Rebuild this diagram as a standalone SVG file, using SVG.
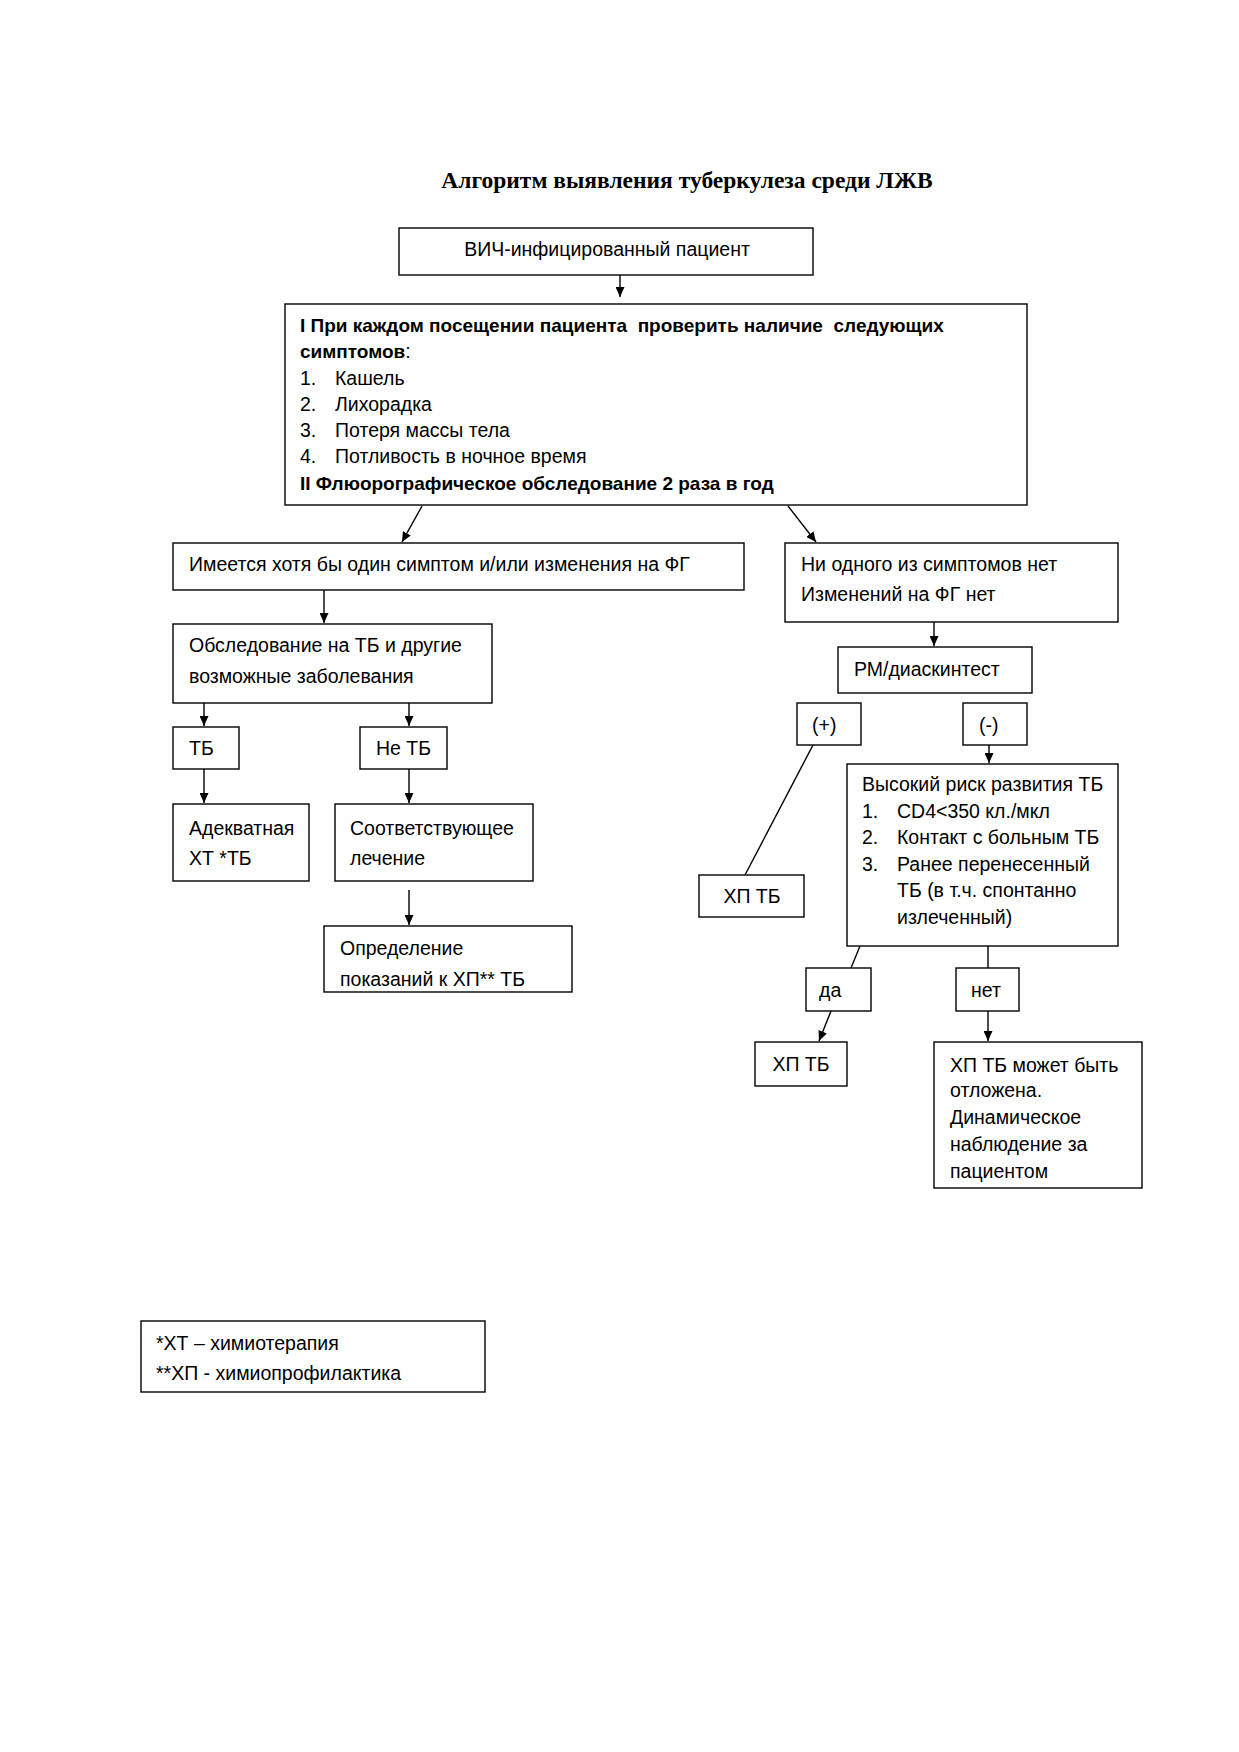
<svg xmlns="http://www.w3.org/2000/svg" width="1239" height="1752" viewBox="0 0 1239 1752">
<style>
.bx{fill:#fff;stroke:#000;stroke-width:1.4}
.t{font-family:"Liberation Sans",Arial,sans-serif;font-size:19.5px;fill:#000;white-space:pre}
.b{font-weight:bold;font-size:19px}
.ttl{font-family:"Liberation Serif","Times New Roman",serif;font-size:23.5px;font-weight:bold;fill:#000}
.c{stroke:#000;stroke-width:1.4;fill:none}
</style>
<defs>
<marker id="ah" markerUnits="userSpaceOnUse" markerWidth="10" markerHeight="9" refX="10" refY="4.5" orient="auto">
<path d="M0,0 L10,4.5 L0,9 z" fill="#000"/>
</marker>
</defs>
<rect width="1239" height="1752" fill="#fff"/>
<text class="ttl" x="687" y="188" text-anchor="middle">Алгоритм выявления туберкулеза среди ЛЖВ</text>

<g id="connectors">
<line class="c" x1="620" y1="275" x2="620" y2="297" marker-end="url(#ah)"/>
<line class="c" x1="422" y1="506" x2="402" y2="542" marker-end="url(#ah)"/>
<line class="c" x1="788" y1="506" x2="816" y2="542" marker-end="url(#ah)"/>
<line class="c" x1="324" y1="590" x2="324" y2="623" marker-end="url(#ah)"/>
<line class="c" x1="934" y1="622" x2="934" y2="646" marker-end="url(#ah)"/>
<line class="c" x1="204" y1="703" x2="204" y2="726" marker-end="url(#ah)"/>
<line class="c" x1="409" y1="703" x2="409" y2="726" marker-end="url(#ah)"/>
<line class="c" x1="204" y1="769" x2="204" y2="803" marker-end="url(#ah)"/>
<line class="c" x1="409" y1="769" x2="409" y2="803" marker-end="url(#ah)"/>
<line class="c" x1="409" y1="890" x2="409" y2="925" marker-end="url(#ah)"/>
<line class="c" x1="813" y1="745" x2="745" y2="875"/>
<line class="c" x1="989" y1="745" x2="989" y2="763" marker-end="url(#ah)"/>
<line class="c" x1="860" y1="946" x2="851" y2="968"/>
<line class="c" x1="831" y1="1011" x2="819" y2="1041" marker-end="url(#ah)"/>
<line class="c" x1="988" y1="946" x2="988" y2="968"/>
<line class="c" x1="988" y1="1011" x2="988" y2="1041" marker-end="url(#ah)"/>
</g>

<g id="n1"><rect class="bx" x="399" y="228" width="414" height="47"/>
<text class="t" x="607" y="256" text-anchor="middle">ВИЧ-инфицированный пациент</text></g>

<g id="n2"><rect class="bx" x="285" y="304" width="742" height="201"/>
<text class="t b" x="300" y="332">I При каждом посещении пациента  проверить наличие  следующих</text>
<text class="t" x="300" y="358"><tspan class="b">симптомов</tspan>:</text>
<text class="t" x="300" y="385">1.</text><text class="t" x="335" y="385">Кашель</text>
<text class="t" x="300" y="411">2.</text><text class="t" x="335" y="411">Лихорадка</text>
<text class="t" x="300" y="437">3.</text><text class="t" x="335" y="437">Потеря массы тела</text>
<text class="t" x="300" y="463">4.</text><text class="t" x="335" y="463">Потливость в ночное время</text>
<text class="t b" x="300" y="490">II Флюорографическое обследование 2 раза в год</text></g>

<g id="n3"><rect class="bx" x="173" y="543" width="571" height="47"/>
<text class="t" x="189" y="571">Имеется хотя бы один симптом и/или изменения на ФГ</text></g>

<g id="n4"><rect class="bx" x="785" y="543" width="333" height="79"/>
<text class="t" x="801" y="571">Ни одного из симптомов нет</text>
<text class="t" x="801" y="601">Изменений на ФГ нет</text></g>

<g id="n5"><rect class="bx" x="173" y="624" width="319" height="79"/>
<text class="t" x="189" y="652">Обследование на ТБ и другие</text>
<text class="t" x="189" y="683">возможные заболевания</text></g>

<g id="n6"><rect class="bx" x="838" y="647" width="194" height="46"/>
<text class="t" x="854" y="676">РМ/диаскинтест</text></g>

<g id="n7"><rect class="bx" x="797" y="703" width="64" height="42"/>
<text class="t" x="812" y="732">(+)</text></g>

<g id="n8"><rect class="bx" x="963" y="703" width="64" height="42"/>
<text class="t" x="979" y="732">(-)</text></g>

<g id="n9"><rect class="bx" x="173" y="727" width="66" height="42"/>
<text class="t" x="189" y="755">ТБ</text></g>

<g id="n10"><rect class="bx" x="360" y="727" width="87" height="42"/>
<text class="t" x="376" y="755">Не ТБ</text></g>

<g id="n11"><rect class="bx" x="173" y="804" width="136" height="77"/>
<text class="t" x="189" y="835">Адекватная</text>
<text class="t" x="189" y="865">ХТ *ТБ</text></g>

<g id="n12"><rect class="bx" x="335" y="804" width="198" height="77"/>
<text class="t" x="350" y="835">Соответствующее</text>
<text class="t" x="350" y="865">лечение</text></g>

<g id="n13"><rect class="bx" x="324" y="926" width="248" height="66"/>
<text class="t" x="340" y="955">Определение</text>
<text class="t" x="340" y="986">показаний к ХП** ТБ</text></g>

<g id="n14"><rect class="bx" x="847" y="764" width="271" height="182"/>
<text class="t" x="862" y="791">Высокий риск развития ТБ</text>
<text class="t" x="862" y="818">1.</text><text class="t" x="897" y="818">CD4&lt;350 кл./мкл</text>
<text class="t" x="862" y="844">2.</text><text class="t" x="897" y="844">Контакт с больным ТБ</text>
<text class="t" x="862" y="871">3.</text><text class="t" x="897" y="871">Ранее перенесенный</text>
<text class="t" x="897" y="897">ТБ (в т.ч. спонтанно</text>
<text class="t" x="897" y="924">излеченный)</text></g>

<g id="n15"><rect class="bx" x="699" y="875" width="105" height="42"/>
<text class="t" x="752" y="903" text-anchor="middle">ХП ТБ</text></g>

<g id="n16"><rect class="bx" x="806" y="968" width="65" height="43"/>
<text class="t" x="819" y="997">да</text></g>

<g id="n17"><rect class="bx" x="956" y="968" width="63" height="43"/>
<text class="t" x="971" y="997">нет</text></g>

<g id="n18"><rect class="bx" x="755" y="1042" width="92" height="44"/>
<text class="t" x="801" y="1071" text-anchor="middle">ХП ТБ</text></g>

<g id="n19"><rect class="bx" x="934" y="1042" width="208" height="146"/>
<text class="t" x="950" y="1072">ХП ТБ может быть</text>
<text class="t" x="950" y="1097">отложена.</text>
<text class="t" x="950" y="1124">Динамическое</text>
<text class="t" x="950" y="1151">наблюдение за</text>
<text class="t" x="950" y="1178">пациентом</text></g>

<g id="legend"><rect class="bx" x="141" y="1321" width="344" height="71"/>
<text class="t" x="156" y="1350">*ХТ – химиотерапия</text>
<text class="t" x="156" y="1380">**ХП - химиопрофилактика</text></g>
</svg>
